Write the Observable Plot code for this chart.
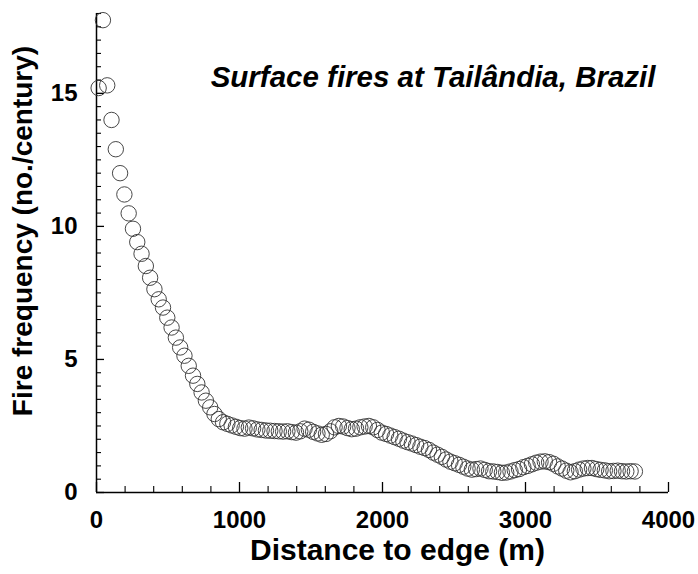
<!DOCTYPE html>
<html><head><meta charset="utf-8">
<script src="https://cdn.jsdelivr.net/npm/d3@7"></script>
<script src="https://cdn.jsdelivr.net/npm/@observablehq/plot@0.6"></script>
<style>body{margin:0;background:#fff}</style>
</head><body><div id="chart"></div>
<script>
const distance = [15, 45, 75, 105, 135, 165, 195, 225, 255, 285, 315, 345, 375, 405, 435, 465, 495, 525, 555, 585,
  615, 645, 675, 705, 735, 765, 795, 825, 855, 885, 915, 945, 975, 1005, 1035, 1065, 1095, 1125, 1155, 1185,
  1215, 1245, 1275, 1305, 1335, 1365, 1395, 1425, 1455, 1485, 1515, 1545, 1575, 1605, 1635, 1665, 1695, 1725, 1755, 1785,
  1815, 1845, 1875, 1905, 1935, 1965, 1995, 2025, 2055, 2085, 2115, 2145, 2175, 2205, 2235, 2265, 2295, 2325, 2355, 2385,
  2415, 2445, 2475, 2505, 2535, 2565, 2595, 2625, 2655, 2685, 2715, 2745, 2775, 2805, 2835, 2865, 2895, 2925, 2955, 2985,
  3015, 3045, 3075, 3105, 3135, 3165, 3195, 3225, 3255, 3285, 3315, 3345, 3375, 3405, 3435, 3465, 3495, 3525, 3555, 3585,
  3615, 3645, 3675, 3705, 3735, 3765];
const frequency = [15.2, 17.75, 15.3, 14.0, 12.9, 12.0, 11.2, 10.49, 9.91, 9.41, 8.97, 8.51, 8.07, 7.64, 7.26, 6.95, 6.57, 6.2, 5.82, 5.45,
  5.14, 4.76, 4.39, 4.08, 3.76, 3.45, 3.2, 2.95, 2.76, 2.64, 2.58, 2.52, 2.47, 2.42, 2.40, 2.44, 2.41, 2.37, 2.35, 2.33,
  2.32, 2.31, 2.30, 2.29, 2.30, 2.27, 2.25, 2.30, 2.40, 2.36, 2.28, 2.22, 2.17, 2.20, 2.30, 2.45, 2.50, 2.48, 2.42, 2.38,
  2.40, 2.45, 2.48, 2.50, 2.45, 2.35, 2.25, 2.20, 2.14, 2.08, 2.02, 1.95, 1.89, 1.84, 1.78, 1.72, 1.67, 1.60, 1.50, 1.42,
  1.34, 1.24, 1.16, 1.10, 1.04, 0.97, 0.90, 0.86, 0.88, 0.90, 0.85, 0.80, 0.79, 0.77, 0.74, 0.75, 0.79, 0.84, 0.88, 0.95,
  1.00, 1.06, 1.12, 1.16, 1.17, 1.14, 1.08, 0.98, 0.90, 0.82, 0.76, 0.80, 0.86, 0.90, 0.92, 0.92, 0.88, 0.85, 0.83, 0.80,
  0.81, 0.82, 0.80, 0.79, 0.80, 0.79];
const xMajorTicks = [0, 1000, 2000, 3000, 4000];
const xMinorTicks = [200, 400, 600, 800, 1200, 1400, 1600, 1800, 2200, 2400, 2600, 2800, 3200, 3400, 3600, 3800];
const yMajorTicks = [0, 5, 10, 15];
const yMinorTicks = [0.5, 1, 1.5, 2, 2.5, 3, 3.5, 4, 4.5, 5.5, 6, 6.5, 7, 7.5, 8, 8.5, 9, 9.5,
  10.5, 11, 11.5, 12, 12.5, 13, 13.5, 14, 14.5, 15.5, 16, 16.5, 17, 17.5, 18];
const titleText = "Surface fires at Tailândia, Brazil";
const xLabel = "Distance to edge (m)";
const yLabel = "Fire frequency (no./century)";

const data = distance.map((d, i) => ({distance: d, frequency: frequency[i]}));
const W = 698, H = 574, mL = 96, mR = 30, mT = 13, mB = 82;
const iw = W - mL - mR, ih = H - mT - mB;
const font = "Arial, 'Liberation Sans', sans-serif";

const chart = Plot.plot({
  width: W, height: H,
  marginLeft: mL, marginRight: mR, marginTop: mT, marginBottom: mB,
  style: {fontFamily: font, background: "#fff", color: "#000", fontWeight: "bold"},
  x: {domain: [0, 4000]},
  y: {domain: [0, 18]},
  marks: [
    Plot.ruleX(xMajorTicks, {stroke: "#000", strokeWidth: 1.3, insetTop: ih - 10}),
    Plot.ruleX(xMinorTicks, {stroke: "#000", strokeWidth: 1.1, insetTop: ih - 6}),
    Plot.ruleY(yMajorTicks, {stroke: "#000", strokeWidth: 1.3, insetRight: iw - 8}),
    Plot.ruleY(yMinorTicks, {stroke: "#000", strokeWidth: 1.1, insetRight: iw - 5}),
    Plot.ruleX([0], {stroke: "#000", strokeWidth: 1.5}),
    Plot.ruleY([0], {stroke: "#000", strokeWidth: 1.5}),
    Plot.axisX(xMajorTicks, {tickSize: 0, tickPadding: 18, fontSize: 24, fontWeight: "bold", label: null, tickFormat: d => String(d)}),
    Plot.axisY(yMajorTicks, {tickSize: 0, tickPadding: 19, fontSize: 24, fontWeight: "bold", label: null, tickFormat: d => String(d)}),
    Plot.dot(data, {x: "distance", y: "frequency", r: 7.7, stroke: "#333", strokeWidth: 0.9, fill: "none"}),
    Plot.text([titleText], {text: d => d, frameAnchor: "top-right", dx: -13, dy: 64, fontSize: 29.5, fontWeight: "bold", fontStyle: "italic", textAnchor: "end", lineAnchor: "middle"}),
    Plot.text([xLabel], {text: d => d, frameAnchor: "bottom", dx: 15, dy: 58, fontSize: 30, fontWeight: "bold", lineAnchor: "middle"}),
    Plot.text([yLabel], {text: d => d, frameAnchor: "left", dx: -73, dy: -22, rotate: -90, fontSize: 28, fontWeight: "bold", textAnchor: "middle", lineAnchor: "middle"})
  ]
});
document.getElementById("chart").appendChild(chart);
</script>
</body></html>
